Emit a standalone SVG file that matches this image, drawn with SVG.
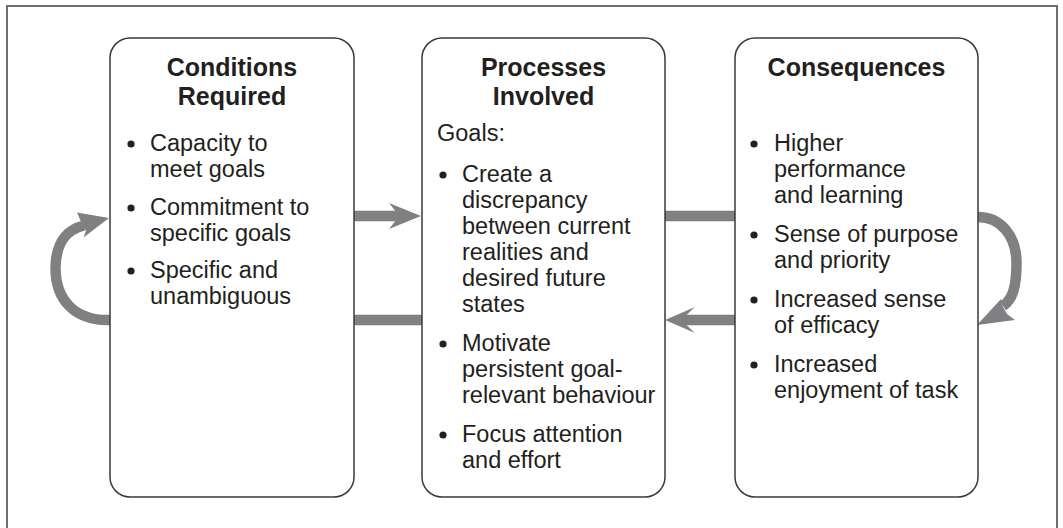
<svg xmlns="http://www.w3.org/2000/svg" width="1063" height="528" viewBox="0 0 1063 528">
<style>
.frame{fill:none;stroke:#6d6e71;stroke-width:2}
.box{fill:#fff;stroke:#3a3a3c;stroke-width:1.5}
.t{font-family:"Liberation Sans",Arial,sans-serif;font-size:23.5px;fill:#231f20}
.h{font-family:"Liberation Sans",Arial,sans-serif;font-size:25px;font-weight:bold;fill:#231f20;text-anchor:middle}
.b{fill:#231f20}
.bar{fill:none;stroke:#808083;stroke-width:10.5}
.head{fill:#808083}
</style>
<rect class="frame" x="7" y="6" width="1050" height="540"/>
<g id="connectors">
  <path class="bar" d="M354,216 H395"/>
  <polygon class="head" points="421,216 389,203 395,210.5 395,221.5 389,229"/>
  <path class="bar" d="M354,320 H422"/>
  <path class="bar" d="M665,216 H735"/>
  <path class="bar" d="M735,320 H687"/>
  <polygon class="head" points="665,320 695,307 687,314.5 687,325.5 695,333"/>
  <path class="bar" d="M110,320 C75,321 55.5,300 55.5,268 C56,242 66,230 84,225.5"/>
  <polygon class="head" points="109,218 77,212.5 83,226.5 86,230.5 83.5,237.5"/>
  <path class="bar" d="M978,217 C1000,217 1016.5,235 1016.5,263 C1016.5,286 1013,299 1003,306"/>
  <polygon class="head" points="977,325 1001,299 1002,305 1007,314 1015,320"/>
</g>
<g id="conditions">
  <rect class="box" x="110" y="38" width="244" height="459" rx="20"/>
  <text class="h" x="232" y="76">Conditions</text>
  <text class="h" x="232" y="105">Required</text>
  <circle class="b" cx="131" cy="144" r="3.6"/>
  <text class="t" x="150" y="151">Capacity to</text>
  <text class="t" x="150" y="177">meet goals</text>
  <circle class="b" cx="131" cy="208" r="3.6"/>
  <text class="t" x="150" y="215">Commitment to</text>
  <text class="t" x="150" y="241">specific goals</text>
  <circle class="b" cx="131" cy="271" r="3.6"/>
  <text class="t" x="150" y="278">Specific and</text>
  <text class="t" x="150" y="304">unambiguous</text>
</g>
<g id="processes">
  <rect class="box" x="422" y="38" width="243" height="459" rx="20"/>
  <text class="h" x="543.5" y="76">Processes</text>
  <text class="h" x="543.5" y="105">Involved</text>
  <text class="t" x="437" y="141">Goals:</text>
  <circle class="b" cx="443" cy="175" r="3.6"/>
  <text class="t" x="462" y="182">Create a</text>
  <text class="t" x="462" y="208">discrepancy</text>
  <text class="t" x="462" y="234">between current</text>
  <text class="t" x="462" y="260">realities and</text>
  <text class="t" x="462" y="286">desired future</text>
  <text class="t" x="462" y="312">states</text>
  <circle class="b" cx="443" cy="344" r="3.6"/>
  <text class="t" x="462" y="351">Motivate</text>
  <text class="t" x="462" y="377">persistent goal-</text>
  <text class="t" x="462" y="403">relevant behaviour</text>
  <circle class="b" cx="443" cy="435" r="3.6"/>
  <text class="t" x="462" y="442">Focus attention</text>
  <text class="t" x="462" y="468">and effort</text>
</g>
<g id="consequences">
  <rect class="box" x="735" y="38" width="243" height="459" rx="20"/>
  <text class="h" x="856.5" y="76">Consequences</text>
  <circle class="b" cx="754" cy="144" r="3.6"/>
  <text class="t" x="774" y="151">Higher</text>
  <text class="t" x="774" y="177">performance</text>
  <text class="t" x="774" y="203">and learning</text>
  <circle class="b" cx="754" cy="235" r="3.6"/>
  <text class="t" x="774" y="242">Sense of purpose</text>
  <text class="t" x="774" y="268">and priority</text>
  <circle class="b" cx="754" cy="300" r="3.6"/>
  <text class="t" x="774" y="307">Increased sense</text>
  <text class="t" x="774" y="333">of efficacy</text>
  <circle class="b" cx="754" cy="365" r="3.6"/>
  <text class="t" x="774" y="372">Increased</text>
  <text class="t" x="774" y="398">enjoyment of task</text>
</g>
</svg>
